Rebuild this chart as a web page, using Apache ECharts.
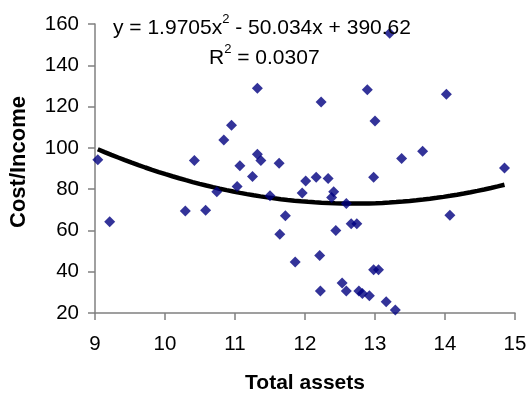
<!DOCTYPE html>
<html>
<head>
<meta charset="utf-8">
<script src="https://cdn.jsdelivr.net/npm/echarts@6/dist/echarts.min.js"></script>
<style>
  html, body { margin: 0; padding: 0; background: #fff; }
  #chart { width: 531px; height: 399px; }
</style>
</head>
<body>
<div id="chart"></div>
<script>
// Observations: total assets (log scale) vs cost/income ratio
const totalAssets = [
  9.04, 9.21, 10.29, 10.42, 10.58, 10.74, 10.84, 10.95, 11.03, 11.07,
  11.25, 11.32, 11.32, 11.37, 11.50, 11.63, 11.64, 11.72, 11.86, 11.96,
  12.01, 12.16, 12.21, 12.22, 12.23, 12.33, 12.38, 12.41, 12.44, 12.53,
  12.59, 12.59, 12.66, 12.74, 12.77, 12.82, 12.89, 12.92, 12.98, 12.98,
  13.00, 13.05, 13.16, 13.21, 13.29, 13.38, 13.68, 14.02, 14.07, 14.85
];
const costIncome = [
  94.2, 64.2, 69.4, 93.9, 69.8, 78.7, 103.8, 110.9, 81.3, 91.3,
  86.1, 96.9, 128.9, 93.9, 76.8, 92.6, 58.1, 67.1, 44.7, 78.1,
  83.9, 85.8, 47.9, 30.6, 122.2, 85.2, 76.0, 78.7, 60.0, 34.5,
  30.6, 73.1, 63.2, 63.2, 30.6, 29.4, 128.2, 28.4, 41.0, 85.8,
  113.0, 41.0, 25.5, 155.5, 21.5, 94.8, 98.4, 126.0, 67.4, 90.3
];

// Polynomial (order 2) trendline coefficients
const trendA = 1.9705, trendB = -50.034, trendC = 390.62;
const rSquared = '0.0307';

const xTicks = [9, 10, 11, 12, 13, 14, 15];
const yTicks = [20, 40, 60, 80, 100, 120, 140, 160];

const points = totalAssets.map((x, i) => [x, costIncome[i]]);

// Trend curve evaluated over the observed range of total assets
const xMin = Math.min(...totalAssets), xMax = Math.max(...totalAssets);
const trend = [];
const steps = 60;
for (let i = 0; i <= steps; i++) {
  const x = xMin + (xMax - xMin) * i / steps;
  trend.push([x, trendA * x * x + trendB * x + trendC]);
}

const chart = echarts.init(document.getElementById('chart'), null, { renderer: 'canvas' });
const font = 'Liberation Sans, Arial, sans-serif';
const axisGray = '#808080';

const richEq = {
  a: { fontFamily: font, fontSize: 21, color: '#000', lineHeight: 26, verticalAlign: 'bottom' },
  s: { fontFamily: font, fontSize: 13, color: '#000', lineHeight: 26, verticalAlign: 'top' }
};

chart.setOption({
  animation: false,
  backgroundColor: '#ffffff',
  grid: { left: 95, right: 16, top: 24, bottom: 85.5 },
  xAxis: {
    type: 'value',
    min: xTicks[0], max: xTicks[xTicks.length - 1], interval: 1,
    name: 'Total assets',
    nameLocation: 'middle',
    nameGap: 60,
    nameTextStyle: { fontFamily: font, fontSize: 21, fontWeight: 'bold', color: '#000' },
    axisLine: { show: true, onZero: false, lineStyle: { color: axisGray, width: 1.5 } },
    axisTick: { show: true, length: 7, lineStyle: { color: axisGray, width: 1.5 } },
    axisLabel: { fontFamily: font, fontSize: 20.5, color: '#000', margin: 21 },
    splitLine: { show: false }
  },
  yAxis: {
    type: 'value',
    min: yTicks[0], max: yTicks[yTicks.length - 1], interval: 20,
    axisLine: { show: true, onZero: false, lineStyle: { color: axisGray, width: 1.5 } },
    axisTick: { show: true, length: 7, lineStyle: { color: axisGray, width: 1.5 } },
    axisLabel: { fontFamily: font, fontSize: 20.5, color: '#000', margin: 16 },
    splitLine: { show: false }
  },
  series: [
    {
      type: 'line',
      data: trend,
      showSymbol: false,
      smooth: false,
      lineStyle: { color: '#000', width: 4.5 },
      z: 2
    },
    {
      type: 'scatter',
      data: points,
      symbol: 'diamond',
      symbolSize: [11, 11],
      itemStyle: { color: '#000080' },
      z: 3
    }
  ],
  graphic: [
    {
      type: 'text',
      left: 113,
      top: 13,
      z: 10,
      style: {
        text: '{a|y = 1.9705x}{s|2}{a| - 50.034x + 390.62}',
        rich: richEq
      }
    },
    {
      type: 'text',
      left: 209,
      top: 43,
      z: 10,
      style: {
        text: '{a|R}{s|2}{a| = ' + rSquared + '}',
        rich: richEq
      }
    },
    {
      // vertical axis title
      type: 'text',
      x: 18.5,
      y: 162,
      rotation: Math.PI / 2,
      style: {
        text: 'Cost/Income',
        fontFamily: font,
        fontSize: 22,
        fontWeight: 'bold',
        fill: '#000',
        align: 'center',
        verticalAlign: 'middle'
      }
    }
  ]
});
</script>
</body>
</html>
